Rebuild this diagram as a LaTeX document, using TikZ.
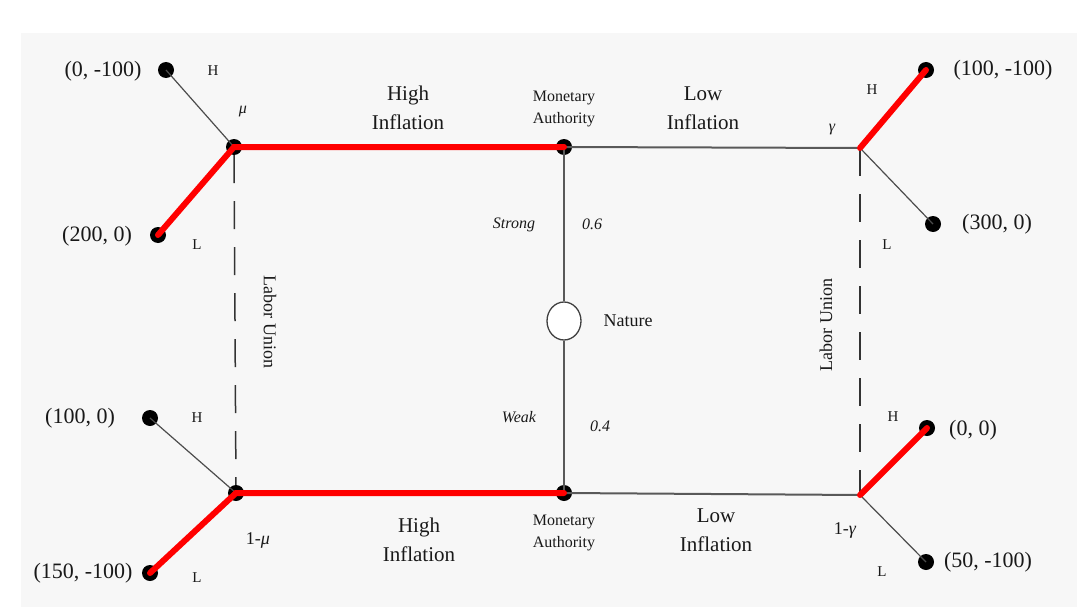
\documentclass[tikz,border=0pt]{standalone}
\usepackage{fontspec}
\setmainfont{Liberation Serif}
\usetikzlibrary{shapes.geometric}
\begin{document}
\begin{tikzpicture}[x=1pt,y=-1pt,
  dot/.style={circle,fill=black,inner sep=0pt,minimum size=16pt},
  natnode/.style={ellipse,draw=black!75,line width=1.3pt,fill=white,minimum width=34pt,minimum height=38pt,inner sep=0pt},
  redline/.style={draw=red,line width=6pt,line cap=round},
  thinline/.style={draw=black!70,line width=1.2pt},
  mainline/.style={draw=black!65,line width=2pt},
  vline/.style={draw=black!65,line width=1.6pt},
  dline/.style={draw=black!80,line width=1.5pt,dash pattern=on 28pt off 18pt},
  big/.style={font=\fontsize{21}{29}\selectfont,text=black!90,align=center,inner sep=0pt},
  coord/.style={font=\fontsize{22}{26}\selectfont,text=black!90,inner sep=0pt},
  mid/.style={font=\fontsize{18}{22}\selectfont,text=black!90,align=center,inner sep=0pt},
  small/.style={font=\fontsize{16}{22}\selectfont,text=black!90,align=center,inner sep=0pt},
  tiny/.style={font=\fontsize{15}{17}\selectfont,text=black!90,inner sep=0pt},
  ital/.style={font=\fontsize{16}{18}\selectfont\itshape,text=black!90,inner sep=0pt}
]
\useasboundingbox (0,0) rectangle (1089,610);
\fill[white] (0,0) rectangle (1089,610);
\fill[black!3] (21,33) rectangle (1077,607);

% decision nodes
\node[dot] (mu) at (234,147) {};
\node[dot] (a1) at (166,70) {};
\node[dot] (a2) at (158,235) {};
\node[dot] (ma1) at (564,147) {};
\node[natnode] (nat) at (564,321) {};
\node[dot] (ma2) at (564,493) {};
\node[dot] (mu2) at (236,493) {};
\node[dot] (b1) at (150,418) {};
\node[dot] (b2) at (150,573) {};
\coordinate (g1) at (860,148);
\node[dot] (c1) at (926,70) {};
\node[dot] (c2) at (933,224) {};
\coordinate (g2) at (860,495);
\node[dot] (d1) at (927,428) {};
\node[dot] (d2) at (926,562) {};

% connectors
\draw[thinline] (mu.center) -- (a1.center);
\draw[thinline] (mu2.center) -- (b1.center);
\draw[thinline] (g1) -- (c2.center);
\draw[thinline] (g2) -- (d2.center);
\draw[mainline] (ma1.center) -- (g1);
\draw[mainline] (ma2.center) -- (g2);
\draw[vline] (ma1.center) -- (nat);
\draw[vline] (nat) -- (ma2.center);
\draw[dline] (mu) -- (mu2);
\draw[dline] (g1) -- (g2);
\draw[redline] (a2.center) -- (mu.center) -- (ma1.center);
\draw[redline] (b2.center) -- (mu2.center) -- (ma2.center);
\draw[redline] (g1) -- (c1.center);
\draw[redline] (g2) -- (d1.center);

% labels
\node[coord] (la1) at (103,71) {(0, -100)};
\node[tiny] (ha1) at (213,71) {H};
\node[ital] (lmu) at (243,112) {μ};
\node[coord] (la2) at (97,236) {(200, 0)};
\node[tiny] (la2l) at (197,245) {L};
\node[big] (hi1) at (408,108) {High\\Inflation};
\node[small] (ma1l) at (564,109) {\fontsize{16}{22}\selectfont Monetary\\Authority};
\node[big] (lo1) at (703,108) {Low\\Inflation};
\node[ital] (lg) at (832,130) {γ};
\node[tiny] (hc1) at (872,90) {H};
\node[coord] (lc1) at (1003,70) {(100, -100)};
\node[coord] (lc2) at (997,224) {(300, 0)};
\node[tiny] (lc2l) at (887,245) {L};
\node[ital] (str) at (514,225) {Strong};
\node[ital] (p6) at (592,224) {0.6};
\node[mid] (natl) at (628,321) {Nature};
\node[mid,rotate=-90] (lu1) at (270,322) {Labor Union};
\node[mid,rotate=90] (lu2) at (826,325) {Labor Union};
\node[ital] (wk) at (519,417) {Weak};
\node[ital] (p4) at (600,426) {0.4};
\node[coord] (lb1) at (80,418) {(100, 0)};
\node[tiny] (hb1) at (197,418) {H};
\node[coord] (lb2) at (83,573) {(150, -100)};
\node[tiny] (lb2l) at (197,578) {L};
\node[mid] (lmu2) at (258,540) {1-\textit{μ}};
\node[big] (hi2) at (419,540) {High\\Inflation};
\node[small] (ma2l) at (564,533) {\fontsize{16}{22}\selectfont Monetary\\Authority};
\node[big] (lo2) at (716,530) {Low\\Inflation};
\node[mid] (lg2) at (845,530) {1-\textit{γ}};
\node[tiny] (hd1) at (893,417) {H};
\node[coord] (ld1) at (973,430) {(0, 0)};
\node[tiny] (ld2l) at (882,572) {L};
\node[coord] (ld2) at (988,562) {(50, -100)};
\end{tikzpicture}
\end{document}
